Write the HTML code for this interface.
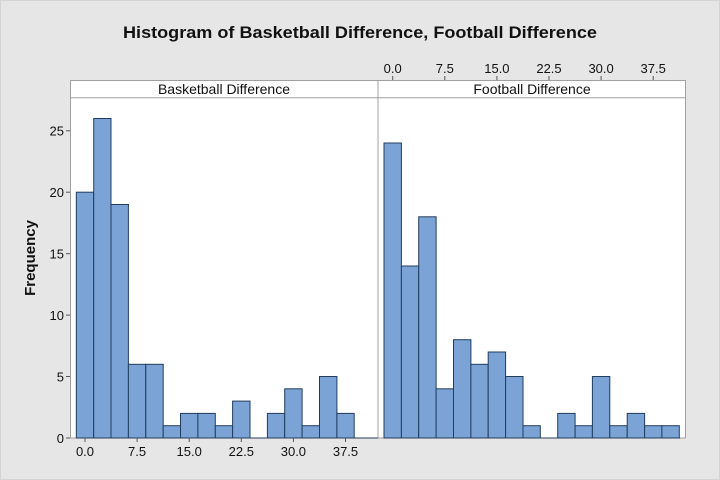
<!DOCTYPE html>
<html><head><meta charset="utf-8"><style>
body{margin:0;background:#e6e6e6;}
svg{display:block;font-family:"Liberation Sans",sans-serif;}
</style></head><body>
<svg width="720" height="480" viewBox="0 0 720 480">
<rect x="0" y="0" width="720" height="480" fill="#e6e6e6"/>
<rect x="0.5" y="0.5" width="719" height="479" fill="none" stroke="#d4d4d4"/>
<text x="360" y="38" text-anchor="middle" font-size="17" font-weight="bold" fill="#111" textLength="474" lengthAdjust="spacingAndGlyphs">Histogram of Basketball Difference, Football Difference</text>
<text transform="translate(35,258) rotate(-90)" text-anchor="middle" font-size="15" font-weight="bold" fill="#111">Frequency</text>
<rect x="70.5" y="80.5" width="615" height="357.5" fill="#fff" stroke="#a0a0a0"/>
<line x1="378" y1="80" x2="378" y2="438" stroke="#a0a0a0"/>
<line x1="70" y1="97.7" x2="686" y2="97.7" stroke="#a0a0a0"/>
<text x="224" y="94" text-anchor="middle" font-size="14" fill="#111">Basketball Difference</text>
<text x="532" y="94" text-anchor="middle" font-size="14" fill="#111">Football Difference</text>
<g fill="#7ba3d6" stroke="#223d5e" stroke-width="1">
<rect x="76.3" y="192.2" width="17.4" height="245.8"/>
<rect x="93.7" y="118.5" width="17.3" height="319.5"/>
<rect x="111.0" y="204.5" width="17.4" height="233.5"/>
<rect x="128.4" y="364.3" width="17.4" height="73.7"/>
<rect x="145.8" y="364.3" width="17.4" height="73.7"/>
<rect x="163.2" y="425.7" width="17.3" height="12.3"/>
<rect x="180.5" y="413.4" width="17.4" height="24.6"/>
<rect x="197.9" y="413.4" width="17.4" height="24.6"/>
<rect x="215.3" y="425.7" width="17.3" height="12.3"/>
<rect x="232.6" y="401.1" width="17.4" height="36.9"/>
<rect x="267.4" y="413.4" width="17.3" height="24.6"/>
<rect x="284.7" y="388.8" width="17.4" height="49.2"/>
<rect x="302.1" y="425.7" width="17.4" height="12.3"/>
<rect x="319.5" y="376.5" width="17.4" height="61.5"/>
<rect x="336.9" y="413.4" width="17.3" height="24.6"/>

<rect x="384.0" y="143.0" width="17.4" height="295.0"/>
<rect x="401.4" y="266.0" width="17.3" height="172.0"/>
<rect x="418.7" y="216.8" width="17.4" height="221.2"/>
<rect x="436.1" y="388.8" width="17.4" height="49.2"/>
<rect x="453.5" y="339.7" width="17.4" height="98.3"/>
<rect x="470.9" y="364.3" width="17.3" height="73.7"/>
<rect x="488.2" y="352.0" width="17.4" height="86.0"/>
<rect x="505.6" y="376.5" width="17.4" height="61.5"/>
<rect x="523.0" y="425.7" width="17.3" height="12.3"/>
<rect x="557.7" y="413.4" width="17.4" height="24.6"/>
<rect x="575.1" y="425.7" width="17.3" height="12.3"/>
<rect x="592.4" y="376.5" width="17.4" height="61.5"/>
<rect x="609.8" y="425.7" width="17.4" height="12.3"/>
<rect x="627.2" y="413.4" width="17.4" height="24.6"/>
<rect x="644.6" y="425.7" width="17.3" height="12.3"/>
<rect x="661.9" y="425.7" width="17.4" height="12.3"/>
</g>
<line x1="76" y1="438" x2="378" y2="438" stroke="#223d5e"/>
<line x1="384" y1="438" x2="680" y2="438" stroke="#223d5e"/>
<g stroke="#555">
<line x1="66" y1="438" x2="70" y2="438"/><line x1="66" y1="376.5" x2="70" y2="376.5"/><line x1="66" y1="315.1" x2="70" y2="315.1"/><line x1="66" y1="253.7" x2="70" y2="253.7"/><line x1="66" y1="192.2" x2="70" y2="192.2"/><line x1="66" y1="130.8" x2="70" y2="130.8"/>
<line x1="85" y1="438" x2="85" y2="442"/><line x1="137.1" y1="438" x2="137.1" y2="442"/><line x1="189.2" y1="438" x2="189.2" y2="442"/><line x1="241.3" y1="438" x2="241.3" y2="442"/><line x1="293.4" y1="438" x2="293.4" y2="442"/><line x1="345.5" y1="438" x2="345.5" y2="442"/>
<line x1="392.7" y1="76" x2="392.7" y2="80"/><line x1="444.8" y1="76" x2="444.8" y2="80"/><line x1="496.9" y1="76" x2="496.9" y2="80"/><line x1="549" y1="76" x2="549" y2="80"/><line x1="601.1" y1="76" x2="601.1" y2="80"/><line x1="653.2" y1="76" x2="653.2" y2="80"/>
</g>
<g font-size="13" fill="#111" text-anchor="end">
<text x="64" y="443">0</text><text x="64" y="381.5">5</text><text x="64" y="320">10</text><text x="64" y="258.5">15</text><text x="64" y="197">20</text><text x="64" y="135.5">25</text>
</g>
<g font-size="13" fill="#111" text-anchor="middle">
<text x="85" y="456">0.0</text><text x="137.1" y="456">7.5</text><text x="189.2" y="456">15.0</text><text x="241.3" y="456">22.5</text><text x="293.4" y="456">30.0</text><text x="345.5" y="456">37.5</text>
<text x="392.7" y="73">0.0</text><text x="444.8" y="73">7.5</text><text x="496.9" y="73">15.0</text><text x="549" y="73">22.5</text><text x="601.1" y="73">30.0</text><text x="653.2" y="73">37.5</text>
</g>
</svg>
</body></html>
